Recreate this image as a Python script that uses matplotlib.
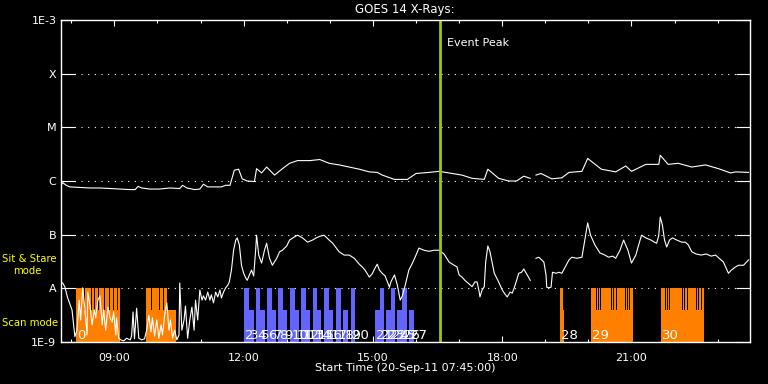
import matplotlib
matplotlib.use('Agg')
import matplotlib.pyplot as plt
import numpy as np
from matplotlib.ticker import FixedLocator, FixedFormatter, NullFormatter

START_HOUR = 7.75          # 07:45
END_HOUR = 23.75
EVENT_PEAK_HOUR = 16.55

# GOES 14 long channel (upper curve): minutes after start, log10(flux W/m^2)
long_t = [1, 3, 8, 13, 27, 41, 55, 69, 83, 97, 104, 108, 113, 124, 138, 152, 166, 170, 176,
          187, 194, 199, 205, 215, 224, 230, 236, 242, 248, 253, 260, 270, 273, 280, 287, 298,
          309, 319, 330, 347, 361, 374, 388, 402, 416, 430, 441, 448, 465, 483, 495, 513, 527,
          541, 559, 573, 590, 595, 610, 624, 635, 645, 654, 658, 662, 669, 684, 698, 708, 726,
          734, 753, 773, 787, 795, 815, 833, 835, 846, 860, 879, 898, 916, 933, 940, 958]
long_logf = [-6.08, -6.03, -6.08, -6.11, -6.12, -6.13, -6.13, -6.14, -6.15, -6.16, -6.16, -6.10,
             -6.13, -6.15, -6.15, -6.13, -6.14, -6.08, -6.13, -6.16, -6.15, -6.06, -6.11, -6.11,
             -6.11, -6.08, -6.08, -5.80, -5.78, -5.96, -6.00, -6.01, -5.77, -5.85, -5.74, -5.89,
             -5.77, -5.67, -5.62, -5.62, -5.60, -5.67, -5.70, -5.74, -5.78, -5.83, -5.84, -5.89,
             -5.97, -5.97, -5.86, -5.84, -5.82, -5.85, -5.89, -5.95, -5.97, -5.78, -5.95, -6.00,
             -6.00, -5.91, -5.95, np.nan, -5.89, -5.86, -5.96, -5.94, -5.84, -5.82, -5.58, -5.78,
             -5.83, -5.72, -5.82, -5.69, -5.69, -5.52, -5.69, -5.67, -5.74, -5.70, -5.77, -5.85,
             -5.83, -5.84]

# GOES 14 short channel (lower curve)
short_t = [1, 3, 6, 10, 16, 20, 23, 26, 28, 31, 34, 37, 38, 41, 44, 47, 49, 52, 55, 58, 60, 63,
           66, 69, 72, 74, 77, 78, 81, 84, 88, 92, 97, 99, 101, 103, 106, 109, 113, 117, 120, 123,
           126, 128, 131, 134, 137, 140, 142, 145, 148, 151, 153, 156, 159, 162, 165, 166, 169,
           172, 174, 177, 180, 183, 186, 188, 191, 194, 197, 199, 202, 205, 208, 210, 213, 216,
           219, 222, 224, 227, 230, 233, 235, 238, 241, 244, 246, 249, 252, 255, 258, 260, 263,
           266, 269, 272, 273, 276, 280, 284, 287, 291, 295, 301, 305, 309, 315, 319, 326, 330,
           337, 344, 351, 356, 361, 367, 374, 379, 384, 388, 395, 402, 409, 416, 420, 424, 430,
           434, 438, 441, 444, 448, 452, 458, 460, 465, 469, 473, 476, 480, 485, 490, 495, 499,
           506, 513, 520, 527, 534, 541, 548, 552, 555, 559, 563, 569, 573, 577, 580, 583, 584,
           587, 590, 592, 595, 598, 604, 610, 615, 619, 622, 626, 629, 633, 638, 642, 645, 649,
           654, 658, 662, 666, 670, 673, 676, 677, 680, 683, 685, 690, 694, 698, 704, 708, 712,
           719, 726, 730, 734, 738, 744, 751, 758, 763, 769, 773, 779, 784, 790, 795, 801, 805,
           809, 815, 822, 827, 830, 833, 835, 838, 841, 844, 848, 852, 858, 865, 870, 874, 879,
           885, 892, 899, 906, 912, 917, 923, 930, 934, 940, 944, 951, 958]
short_logf = [-7.88, -7.90, -7.97, -8.18, -8.40, -8.90, -8.78, -8.22, -8.59, -7.99, -8.40, -8.87,
              -8.07, -8.31, -8.68, -8.40, -8.55, -8.22, -8.14, -8.68, -8.40, -8.78, -8.35, -8.55,
              -8.63, -8.44, -8.87, -8.55, -8.93, -8.96, -8.98, -8.93, -8.96, -8.89, -8.44, -8.94,
              -8.37, -8.93, -8.96, -8.94, -8.78, -8.50, -8.81, -8.55, -8.89, -8.59, -8.93, -8.68,
              -8.87, -8.50, -8.27, -8.78, -8.59, -8.93, -8.78, -8.96, -8.87, -7.90, -8.78, -8.59,
              -8.33, -8.93, -8.59, -8.35, -8.78, -8.22, -8.59, -8.03, -8.22, -8.14, -8.22, -8.07,
              -8.22, -8.12, -8.27, -8.07, -8.16, -8.03, -8.18, -8.07, -7.99, -7.94, -7.88, -7.66,
              -7.29, -7.10, -7.06, -7.19, -7.57, -7.72, -7.81, -7.85, -7.75, -7.66, -7.77, -7.23,
              -7.01, -7.38, -7.53, -7.29, -7.16, -7.44, -7.57, -7.44, -7.32, -7.29, -7.21, -7.10,
              -7.04, -7.01, -7.06, -7.14, -7.10, -7.06, -7.03, -7.01, -7.10, -7.16, -7.25, -7.32,
              -7.38, -7.38, -7.44, -7.55, -7.60, -7.66, -7.79, -7.73, -7.62, -7.55, -7.66, -7.72,
              -7.77, -7.98, -7.88, -7.75, -7.94, -8.22, -8.14, -7.94, -7.66, -7.53, -7.38, -7.25,
              -7.29, -7.31, -7.29, -7.29, -7.36, -7.51, -7.57, -7.60, -7.75, -7.79, -7.85, -7.92,
              -7.97, -7.88, -7.88, -8.07, -8.16, -8.03, -7.97, -7.51, -7.21, -7.32, -7.72, -7.88,
              -8.03, -8.11, -8.16, -8.07, -8.09, -7.94, -7.72, -7.70, -7.64, -7.73, -7.85, np.nan,
              -7.44, -7.42, -7.47, -7.51, -7.75, -7.98, -7.99, -7.98, -7.70, -7.72, -7.70, -7.72,
              -7.57, -7.47, -7.42, -7.44, -7.42, -7.10, -6.78, -7.01, -7.19, -7.34, -7.38, -7.42,
              -7.40, -7.44, -7.29, -7.10, -7.29, -7.53, -7.38, -7.19, -7.01, -7.06, -7.10, -7.14,
              -7.16, -7.01, -6.67, -6.82, -7.10, -7.23, -7.10, -7.06, -7.10, -7.14, -7.14, -7.19,
              -7.32, -7.36, -7.38, -7.36, -7.40, -7.38, -7.44, -7.51, -7.72, -7.66, -7.60, -7.57,
              -7.57, -7.47]

# Observation timeline: scan number, start/end (minutes after start), mode
# mode 'T' = sit & stare (tall), 'S' = scan (short)
blue_num = list(range(2, 28))
blue_start = [256, 263, 272, 278, 288, 295, 303, 310, 320, 327, 335, 342, 352, 357, 367, 374,
              384, 394, 404, 438, 445, 453, 460, 468, 475, 485]
blue_end = [263, 269, 278, 285, 295, 300, 310, 316, 327, 332, 342, 348, 357, 363, 374, 380,
            390, 400, 410, 445, 451, 460, 466, 475, 482, 492]
blue_mode = ['T', 'S', 'T', 'S', 'T', 'S', 'T', 'S', 'T', 'S', 'T', 'S', 'T', 'S', 'T', 'S',
             'T', 'S', 'T', 'S', 'T', 'S', 'T', 'S', 'T', 'S']

orange_num = [0, 1, 28, 29, 30]
orange_start = [21.6, 119.1, 695.5, 738.7, 836.3]
orange_tall_end = [83.5, 150.1, 700.1, 796.7, 896.0]
orange_end = [83.5, 161.5, 701.1, 796.7, 896.0]
orange_gaps = [[32.7, 42.0, 47.1, 52.6, 60.6, 67.5, 72.7, 78.2],
               [126.0, 137.6, 142.3, 147.9],
               [],
               [745.2, 748.0, 751.2, 766.5, 769.7, 773.1, 786.0, 789.2, 792.0],
               [841.9, 845.1, 847.9, 865.0, 868.6, 872.0, 884.4, 888.1, 891.4]]
orange_labeled = [True, False, True, True, True]

TALL_LEVEL = 1e-8
SHORT_LEVEL = 4e-9
BOTTOM = 1e-9

ORANGE = '#ff8000'
BLUE = '#6464ff'
PEAK = '#a0c800'

def hrs(m):
    return START_HOUR + np.asarray(m, dtype=float) / 60.0

fig = plt.figure(figsize=(7.68, 3.84), dpi=100, facecolor='black')
ax = fig.add_axes([60.5 / 768, 42 / 384, (750 - 60.5) / 768, (342 - 20) / 384])
ax.set_facecolor('black')
ax.set_yscale('log')
ax.set_xlim(START_HOUR, END_HOUR)
ax.set_ylim(1e-9, 1e-3)

# orange (scan) blocks
for s, te, e, gaps in zip(orange_start, orange_tall_end, orange_end, orange_gaps):
    ax.bar(hrs(s), SHORT_LEVEL - BOTTOM, width=(e - s) / 60, bottom=BOTTOM, align='edge',
           color=ORANGE, lw=0, zorder=2)
    ax.bar(hrs(s), TALL_LEVEL - BOTTOM, width=(te - s) / 60, bottom=BOTTOM, align='edge',
           color=ORANGE, lw=0, zorder=2)
    for g in gaps:
        ax.bar(hrs(g), TALL_LEVEL - SHORT_LEVEL, width=1.3 / 60, bottom=SHORT_LEVEL,
               align='edge', color='black', lw=0, zorder=2.5, antialiased=False)

# blue blocks
for s, e, md in zip(blue_start, blue_end, blue_mode):
    top = TALL_LEVEL if md == 'T' else SHORT_LEVEL
    ax.bar(hrs(s), top - BOTTOM, width=(e - s) / 60, bottom=BOTTOM, align='edge',
           color=BLUE, lw=0, zorder=2)

# dotted level lines
for lv in [1e-8, 1e-7, 1e-6, 1e-5, 1e-4]:
    ax.axhline(lv, color='white', ls=(0, (1, 5)), lw=0.8, zorder=1.5)

# GOES curves
ax.plot(hrs(long_t), 10 ** np.asarray(long_logf), color='white', lw=0.8, zorder=4)
ax.plot(hrs(short_t), 10 ** np.asarray(short_logf), color='white', lw=0.8, zorder=4,
        clip_on=True)

# scan numbers
for n, s in zip(blue_num, blue_start):
    ax.text(hrs(s + 1.5), 1.14e-9, str(n), color='white', fontsize=9.5, ha='left',
            va='baseline', zorder=5)
for n, s, lab in zip(orange_num, orange_start, orange_labeled):
    if lab:
        ax.text(hrs(s + 1.5), 1.14e-9, str(n), color='white', fontsize=9.5, ha='left',
                va='baseline', zorder=5)

# event peak
ax.axvline(EVENT_PEAK_HOUR, color=PEAK, lw=2, zorder=6)
ax.text(EVENT_PEAK_HOUR + 0.18, 3.7e-4, 'Event Peak', color='white', fontsize=8,
        ha='left', va='center')

# axes styling
for sp in ax.spines.values():
    sp.set_color('white')
    sp.set_linewidth(1.0)
    sp.set_zorder(7)

ax.yaxis.set_major_locator(FixedLocator([1e-9, 1e-8, 1e-7, 1e-6, 1e-5, 1e-4, 1e-3]))
ax.yaxis.set_major_formatter(FixedFormatter(['1E-9', 'A', 'B', 'C', 'M', 'X', '1E-3']))
ax.yaxis.set_minor_locator(FixedLocator([]))
ax.yaxis.set_minor_formatter(NullFormatter())
ax.tick_params(axis='y', which='major', direction='in', length=10, width=0.8,
               colors='white', labelsize=8, left=True, right=True, pad=3)

major_hours = [9, 12, 15, 18, 21]
ax.xaxis.set_major_locator(FixedLocator(major_hours))
ax.xaxis.set_major_formatter(FixedFormatter(['%02d:00' % h for h in major_hours]))
ax.xaxis.set_minor_locator(FixedLocator(list(range(8, 24))))
ax.tick_params(axis='x', which='major', direction='in', length=4.5, width=0.8,
               colors='white', labelsize=8, top=True, bottom=True, pad=8)
ax.tick_params(axis='x', which='minor', direction='in', length=2.2, width=0.8,
               colors='white', top=True, bottom=True)

fig.text(405 / 768, 1 - 10 / 384, 'GOES 14 X-Rays:', color='white', fontsize=8.5,
         ha='center', va='center')
fig.text(405 / 768, 1 - 368 / 384, 'Start Time (20-Sep-11 07:45:00)', color='white',
         fontsize=8, ha='center', va='center')

fig.text(2 / 768, 1 - 259 / 384, 'Sit & Stare', color='yellow', fontsize=7.3,
         ha='left', va='center')
fig.text(13 / 768, 1 - 271.5 / 384, 'mode', color='yellow', fontsize=7.3,
         ha='left', va='center')
fig.text(2 / 768, 1 - 323 / 384, 'Scan mode', color='yellow', fontsize=7.3,
         ha='left', va='center')

fig.savefig('out.png', dpi=100, facecolor='black')
